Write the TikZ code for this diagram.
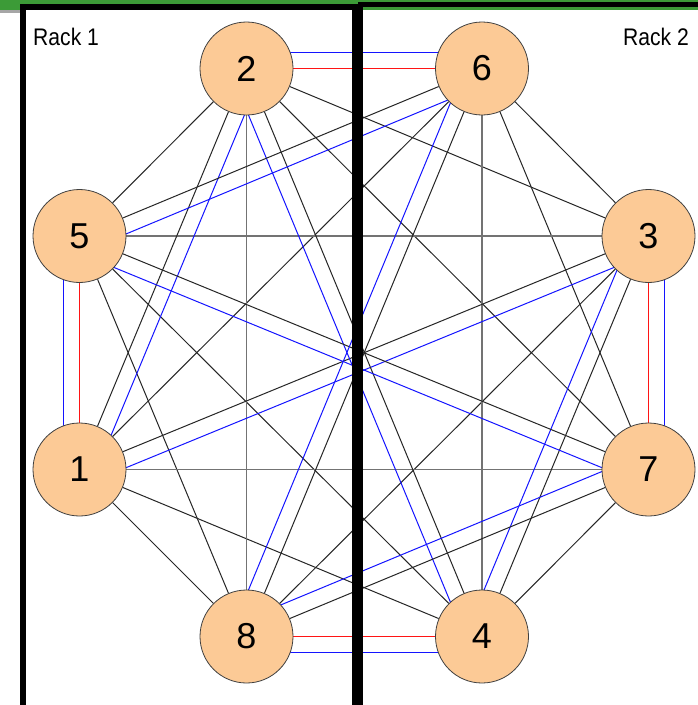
\documentclass[tikz,border=0pt]{standalone}
\usepackage{fontspec}
\setmainfont{Liberation Sans}
\usetikzlibrary{calc}
\pgfdeclarelayer{bg}
\pgfdeclarelayer{edges}
\pgfsetlayers{bg,edges,main}
\definecolor{peach}{RGB}{252,202,150}
\definecolor{topgreen}{RGB}{60,155,55}
\definecolor{linkblue}{RGB}{20,20,255}
\definecolor{linkred}{RGB}{255,20,20}
\begin{document}
\begin{tikzpicture}[x=1pt,y=-1pt,
  srv/.style={circle,draw=black!75,line width=0.8pt,fill=peach,minimum size=93pt,inner sep=0pt,font=\fontsize{36}{40}\selectfont},
  link/.style={line width=1pt,black!85},
  flat/.style={line width=1.3pt,black!55},
  bl/.style={line width=1pt,draw=linkblue},
  rd/.style={line width=1pt,draw=linkred},
  rack/.style={draw=black,line width=5.5pt},
  racklabel/.style={font=\fontsize{24}{28}\selectfont,inner sep=0pt}]
\useasboundingbox (0,0) rectangle (698,705);
\clip (0,0) rectangle (698,705);
\begin{pgfonlayer}{bg}
  \fill[white] (0,0) rectangle (698,705);
  \fill[topgreen] (0,0) rectangle (698,10);
  \fill[black!35] (0,10) rectangle (20,12.5);
\end{pgfonlayer}

\node[srv] (n2) at (246.5,68.5) {2};
\node[srv] (n6) at (482,68.5) {6};
\node[srv] (n5) at (79.5,236) {5};
\node[srv] (n3) at (648.5,236) {3};
\node[srv] (n1) at (79.5,469.5) {1};
\node[srv] (n7) at (648.5,469.5) {7};
\node[srv] (n8) at (246.5,636.5) {8};
\node[srv] (n4) at (482,636.5) {4};

\begin{pgfonlayer}{edges}
  % single black links
  \foreach \a/\b in {1/4,1/6,1/8,2/3,2/5,2/7,3/6,3/8,4/5,4/7,5/8,6/7}
    \draw[link] (n\a) -- (n\b);
  % axis-aligned links
  \foreach \a/\b in {1/7,2/8,3/5,4/6}
    \draw[flat] (n\a) -- (n\b);
  % black + blue pairs
  \foreach \a/\b in {1/2,1/3,2/4,3/4,5/6,5/7,6/8,7/8}{
    \draw[link] (n\a) -- (n\b);
    \draw[bl] ($(n\a.center)!16pt!-90:(n\b.center)$) -- ($(n\b.center)!16pt!90:(n\a.center)$);
  }
  % red + blue pairs
  \foreach \a/\b in {1/5,2/6,3/7,4/8}{
    \draw[rd] (n\a) -- (n\b);
    \draw[bl] ($(n\a.center)!16pt!90:(n\b.center)$) -- ($(n\b.center)!16pt!-90:(n\a.center)$);
  }
\end{pgfonlayer}

\draw[rack] (23,7) rectangle (354.75,707.5);
\draw[rack] (360.25,4.5) rectangle (712,712);

\node[racklabel,anchor=base west] (r1) at (33,45.5) {\scalebox{0.88}[1]{Rack 1}};
\node[racklabel,anchor=base east] (r2) at (689,45) {\scalebox{0.88}[1]{Rack 2}};
\end{tikzpicture}
\end{document}
